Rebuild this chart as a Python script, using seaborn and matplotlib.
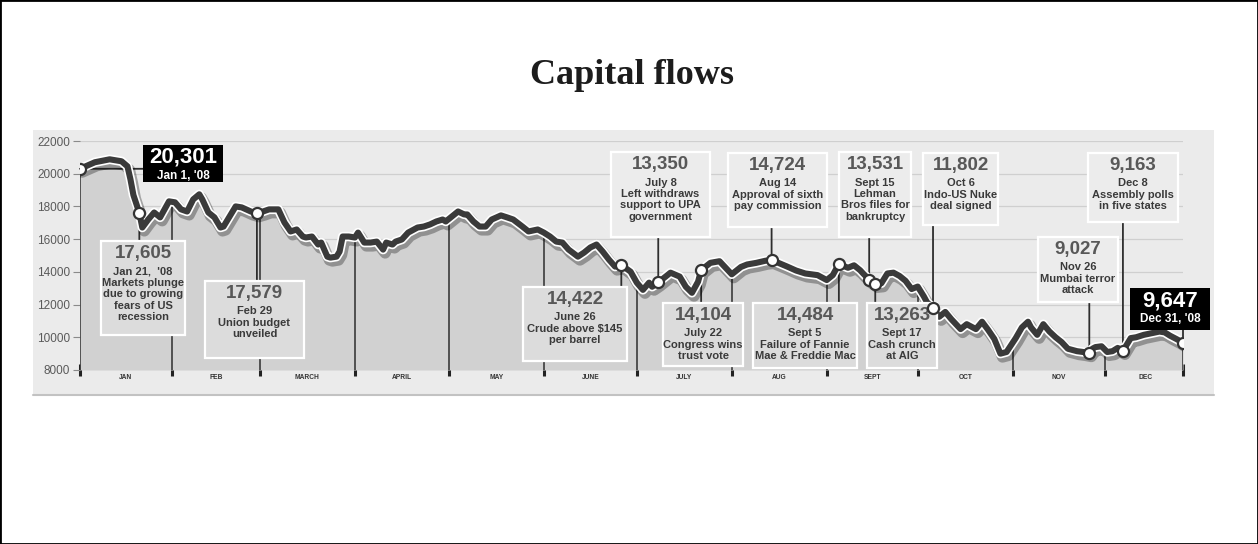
import numpy as np
import pandas as pd
import matplotlib
matplotlib.use("Agg")
import matplotlib.pyplot as plt
import seaborn as sns
from matplotlib import patheffects as pe
from matplotlib import font_manager as fm
from matplotlib.patches import Rectangle, ConnectionPatch
from matplotlib.lines import Line2D
from matplotlib.transforms import Affine2D, blended_transform_factory

# ---------------------------------------------------------------- data
# BSE Sensex through 2008 (month-day, index points)
dates = [
    "01-01", "01-06", "01-11", "01-15", "01-17", "01-18", "01-19", "01-21", "01-22", "01-24", "01-26", "01-28", "01-31",
    "02-02", "02-04", "02-06", "02-08", "02-10", "02-11", "02-13", "02-15", "02-17", "02-18", "02-20", "02-22", "02-24", "02-27", "02-29",
    "03-02", "03-04", "03-07", "03-09", "03-11", "03-13", "03-15", "03-16", "03-18", "03-20", "03-21", "03-23", "03-24", "03-26", "03-27", "03-28", "03-30",
    "04-01", "04-02", "04-04", "04-06", "04-08", "04-10", "04-11", "04-13", "04-14", "04-16", "04-18", "04-21", "04-23", "04-25", "04-27", "04-29", "04-30",
    "05-02", "05-04", "05-06", "05-07", "05-09", "05-11", "05-13", "05-15", "05-18", "05-20", "05-22", "05-25", "05-27", "05-30",
    "06-01", "06-03", "06-05", "06-07", "06-09", "06-12", "06-14", "06-16", "06-18", "06-20", "06-22", "06-24", "06-26", "06-29",
    "07-01", "07-03", "07-05", "07-06", "07-08", "07-12", "07-15", "07-17", "07-19", "07-21", "07-22", "07-25", "07-28", "07-30",
    "08-01", "08-04", "08-06", "08-09", "08-12", "08-14", "08-19", "08-22", "08-25", "08-29",
    "09-01", "09-03", "09-05", "09-08", "09-10", "09-12", "09-13", "09-15", "09-17", "09-19", "09-21", "09-23", "09-25", "09-27", "09-29",
    "10-01", "10-03", "10-04", "10-06", "10-08", "10-10", "10-12", "10-15", "10-17", "10-20", "10-22", "10-24", "10-26", "10-28", "10-30",
    "11-02", "11-04", "11-06", "11-07", "11-09", "11-11", "11-13", "11-15", "11-17", "11-19", "11-22", "11-24", "11-26", "11-27", "11-28", "11-30",
    "12-02", "12-04", "12-06", "12-08", "12-11", "12-13", "12-16", "12-19", "12-22", "12-24", "12-26", "12-29", "12-31",
]
sensex = [
    20301, 20700, 20880, 20760, 20450, 19660, 18700, 17605, 16710, 17200, 17630, 17330, 18310,
    18250, 17820, 17690, 18430, 18740, 18430, 17630, 17330, 16710, 16770, 17390, 18000, 17940, 17690, 17579,
    17690, 17820, 17820, 17020, 16470, 16590, 16160, 16100, 16160, 15670, 15790, 14930, 14870, 14930, 15240, 16160, 16160,
    16100, 16400, 15790, 15790, 15850, 15360, 15790, 15670, 15850, 15980, 16400, 16710, 16770, 16900, 17080, 17200, 17080,
    17390, 17690, 17510, 17510, 17080, 16770, 16770, 17200, 17450, 17330, 17200, 16770, 16470, 16590,
    16400, 16160, 15850, 15790, 15360, 14930, 15180, 15490, 15670, 15240, 14750, 14320, 14422, 14010,
    13340, 12900, 13340, 13090, 13350, 13950, 13710, 13090, 12720, 13400, 14104, 14550, 14650, 14250,
    13850, 14300, 14450, 14550, 14680, 14724, 14330, 14080, 13900, 13800,
    13500, 13800, 14484, 14250, 14400, 14100, 13900, 13531, 13263, 13300, 13900, 13950, 13750, 13450, 12950,
    13100, 12500, 12150, 11802, 11250, 11550, 11100, 10500, 10800, 10500, 10950, 10450, 9900, 9000, 9100,
    9950, 10600, 10950, 10600, 10150, 10800, 10350, 10000, 9700, 9300, 9150, 9100, 9027, 9300, 9400, 9450,
    9100, 9150, 9350, 9163, 9950, 10000, 10150, 10250, 10350, 10300, 10100, 9850, 9647,
]

months = ["JAN", "FEB", "MARCH", "APRIL", "MAY", "JUNE", "JULY", "AUG", "SEPT", "OCT", "NOV", "DEC"]
month_starts = ["01-01", "02-01", "03-01", "04-01", "05-01", "06-01",
                "07-01", "08-01", "09-01", "10-01", "11-01", "12-01", "12-31"]

event_dates = ["01-01", "01-21", "02-29", "06-26", "07-08", "07-22", "08-14",
               "09-05", "09-15", "09-17", "10-06", "11-26", "12-08", "12-31"]
event_values = [20301, 17605, 17579, 14422, 13350, 14104, 14724,
                14484, 13531, 13263, 11802, 9027, 9163, 9647]
event_notes = [
    "Jan 1, '08",
    "Jan 21,  '08\nMarkets plunge\ndue to growing\nfears of US\nrecession",
    "Feb 29\nUnion budget\nunveiled",
    "June 26\nCrude above \\$145\nper barrel",
    "July 8\nLeft withdraws\nsupport to UPA\ngovernment",
    "July 22\nCongress wins\ntrust vote",
    "Aug 14\nApproval of sixth\npay commission",
    "Sept 5\nFailure of Fannie\nMae & Freddie Mac",
    "Sept 15\nLehman\nBros files for\nbankruptcy",
    "Sept 17\nCash crunch\nat AIG",
    "Oct 6\nIndo-US Nuke\ndeal signed",
    "Nov 26\nMumbai terror\nattack",
    "Dec 8\nAssembly polls\nin five states",
    "Dec 31, '08",
]

# ---------------------------------------------------------------- layout
W, H = 1258, 544
# callout boxes on the canvas (left, top, right, bottom), which side of the
# point they sit on, and their fill
box_rects = [
    (143, 145, 223, 182), (101, 241, 185, 335), (205, 281, 304, 358),
    (523, 287, 627, 361), (611, 152, 710, 237), (663, 303, 743, 366),
    (728, 153, 827, 227), (753, 303, 857, 368), (839, 152, 911, 237),
    (867, 303, 937, 368), (923, 153, 998, 225), (1038, 237, 1118, 302),
    (1088, 153, 1178, 222), (1130, 288, 1210, 330),
]
box_side = ["right", "below", "below", "below", "above", "below", "above",
            "below", "above", "below", "above", "above", "above", "above"]
box_face = ["black", "#dcdcdc", "#dcdcdc", "#dcdcdc", "#ececec", "#dcdcdc", "#ececec",
            "#dcdcdc", "#ececec", "#dcdcdc", "#ececec", "#ececec", "#ececec", "black"]

# month boundaries (day of year) and where they fall horizontally on the canvas
edge_days = np.array([-400, 0, 31, 60, 91, 121, 152, 182, 213, 244, 274, 305, 335, 366, 800])
edge_px = np.array([80 - 1200, 80, 172, 260, 355, 449, 544, 637, 732, 827, 918, 1013, 1105, 1186,
                    1186 + 1302])


def to_canvas(d):
    return np.interp(d, edge_days, edge_px)


def from_canvas(p):
    return np.interp(p, edge_px, edge_days)


# ---------------------------------------------------------------- style
sns.set_theme(style="white")
plt.rcParams["font.family"] = ["Liberation Sans Narrow", "Liberation Sans", "DejaVu Sans"]

# callouts use a narrow face when one is available
_installed = {f.name for f in fm.fontManager.ttflist}
if "Liberation Sans Narrow" in _installed:
    callout_family, note_size, num_size, dark_num_size = "Liberation Sans Narrow", 9.3, 16, 18
else:
    callout_family, note_size, num_size, dark_num_size = "Liberation Sans", 8.0, 13.5, 16

fig = plt.figure(figsize=(W / 100, H / 100), dpi=100)
fig.patch.set_facecolor("white")
canvas = Affine2D().scale(1 / W, -1 / H).translate(0, 1) + fig.transFigure

# outer frame and grey panel
fig.add_artist(Rectangle((0, 0), 1, 1, transform=fig.transFigure, fill=False,
                         ec="black", lw=2, zorder=-6))
fig.add_artist(Rectangle((33, 130), 1181, 265, transform=canvas, fc="#ebebeb",
                         ec="none", zorder=-5))
fig.add_artist(Line2D([33, 1214], [395, 395], transform=canvas, color="#c2c2c2",
                      lw=1.5, zorder=-4))

fig.text(632, 84, "Capital flows", transform=canvas, ha="center", va="baseline",
         fontsize=26, fontweight="bold", color="#1c1c1c",
         family=["Liberation Serif", "DejaVu Serif"])

ax = fig.add_axes([80 / W, 1 - 370 / H, 1103 / W, 229 / H])
ax.set_facecolor("none")
ax.set_xscale("function", functions=(to_canvas, from_canvas))

df = pd.DataFrame({
    "day": pd.to_datetime(["2008-" + d for d in dates]).dayofyear.to_numpy() - 1,
    "sensex": sensex,
})
ev_day = pd.to_datetime(["2008-" + d for d in event_dates]).dayofyear.to_numpy() - 1
bound_day = pd.to_datetime(["2008-" + d for d in month_starts]).dayofyear.to_numpy() - 1
mid_day = (bound_day[:-1] + np.append(bound_day[1:-1], 366)) / 2

# shaded area under the index
ax.fill_between(df["day"], df["sensex"], 8000, color="#d1d1d1", lw=0, zorder=1)

# month dividers rising to the curve
ax.vlines(bound_day, 8000, np.interp(bound_day, df["day"], df["sensex"]),
          colors="#3a3a3a", lw=1.2, zorder=2)

# the index line with a white rim and a soft shadow
sns.lineplot(data=df, x="day", y="sensex", ax=ax, color="#3a3a3a", lw=4.4,
             zorder=4, legend=False)
line = ax.lines[-1]
line.set_solid_joinstyle("round")
line.set_solid_capstyle("round")
line.set_path_effects([
    pe.SimpleLineShadow(offset=(1.5, -2.5), shadow_color="black", alpha=0.3, linewidth=8),
    pe.Stroke(linewidth=6.8, foreground="white"),
    pe.Normal(),
])

# event markers
sns.scatterplot(x=ev_day, y=event_values, ax=ax, s=64, color="white",
                edgecolor="#333333", linewidth=1.6, zorder=7, legend=False)

# callouts
data_canvas_x = blended_transform_factory(ax.transData, canvas)
canvas_data_y = blended_transform_factory(canvas, ax.transData)
for i, note in enumerate(event_notes):
    l, t, r, b = box_rects[i]
    dark = box_face[i] == "black"
    ax.add_patch(Rectangle((l, t), r - l, b - t, transform=canvas, fc=box_face[i],
                           ec="none" if dark else "white", lw=1.6, zorder=5,
                           clip_on=False))
    cx = (l + r) / 2
    ax.text(cx, t + 12.5, f"{event_values[i]:,}", transform=canvas, ha="center",
            va="center", fontsize=dark_num_size if dark else num_size,
            fontweight="bold", family=callout_family,
            color="white" if dark else "#585858", zorder=6, clip_on=False)
    ax.text(cx, t + (25 if dark else 25.5), note, transform=canvas, ha="center", va="top",
            fontsize=note_size if not dark else note_size + 0.5, fontweight="bold",
            family=callout_family, linespacing=1.18,
            color="white" if dark else "#3a3a3a", zorder=6, clip_on=False)

    side = box_side[i]
    if side == "right":
        xyB, coordsB = (l, event_values[i]), canvas_data_y
    else:
        xyB, coordsB = (ev_day[i], t if side == "below" else b), data_canvas_x
    cp = ConnectionPatch(xyA=(ev_day[i], event_values[i]), coordsA=ax.transData,
                         xyB=xyB, coordsB=coordsB, color="#2e2e2e", lw=1.3,
                         zorder=3, clip_on=False)
    ax.add_artist(cp)

# axes
ax.set_xlim(0, 365)
ax.set_ylim(8000, 22000)
ax.set_yticks(np.arange(8000, 22001, 2000))
ax.yaxis.grid(True, color="#cfcfcf", lw=0.9)
ax.set_axisbelow(True)
ax.tick_params(axis="y", left=True, length=5, width=0.8, color="#8a8a8a",
               labelsize=8.5, labelcolor="#5a5a5a", pad=2)

ax.set_xticks(bound_day)
ax.set_xticklabels([""] * len(bound_day))
ax.set_xticks(mid_day, minor=True)
ax.set_xticklabels(months, minor=True, fontweight="bold")
ax.tick_params(axis="x", which="major", bottom=True, direction="inout", length=9,
               width=2.2, color="#222222")
ax.tick_params(axis="x", which="minor", bottom=True, length=0, labelsize=4.8,
               labelcolor="#333333", pad=3)
for s in ax.spines.values():
    s.set_visible(False)
ax.set_xlabel("")
ax.set_ylabel("")

fig.savefig("out.png", dpi=100)
